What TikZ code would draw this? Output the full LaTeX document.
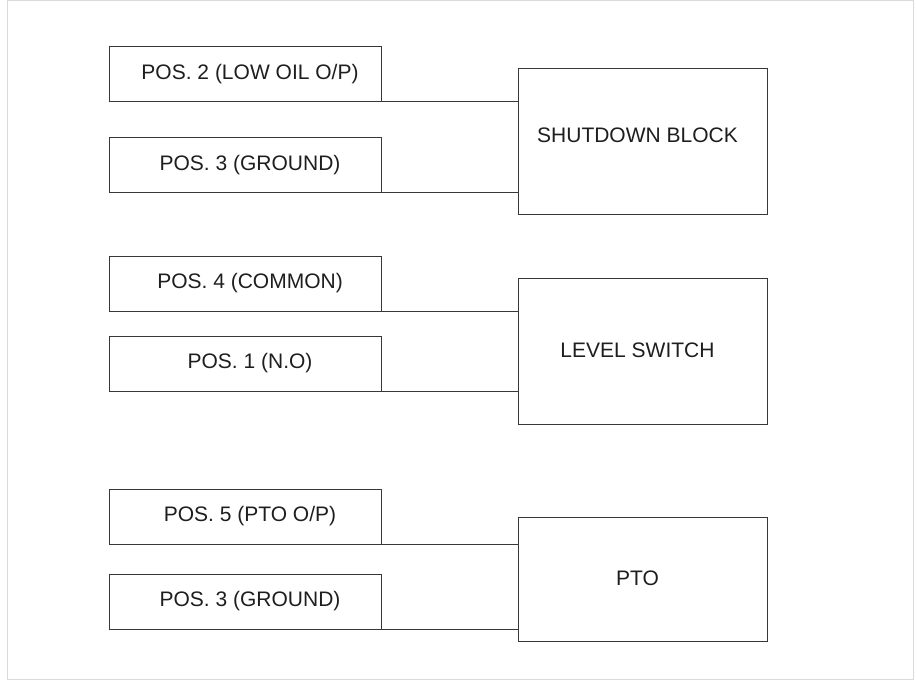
\documentclass[tikz,border=0pt]{standalone}
\usepackage{fontspec}
\setmainfont{Liberation Sans}
\definecolor{edge}{HTML}{383838}
\definecolor{ink}{HTML}{1E1E1E}
\definecolor{frame}{HTML}{DADADA}
\begin{document}
\begin{tikzpicture}[x=1pt,y=-1pt,
  lbox/.style={draw=edge,line width=1pt,minimum width=272pt,minimum height=55pt,inner sep=0pt},
  rbox/.style={draw=edge,line width=1pt,minimum width=249pt,inner sep=0pt},
  txt/.style={font=\fontsize{21}{25}\selectfont,text=ink},
  wire/.style={draw=edge,line width=1pt}]
\useasboundingbox (0,0) rectangle (917,681);
\draw[frame,line width=1pt] (7.5,0.5) rectangle (913.5,679);
% left boxes
\node[lbox,label={[txt,xshift=5pt,yshift=-1pt]center:POS. 2 (LOW OIL O/P)}] (p2) at (245,73.5) {};
\node[lbox,label={[txt,xshift=5pt,yshift=-1pt]center:POS. 3 (GROUND)}] (p3a) at (245,164.5) {};
\node[lbox,label={[txt,xshift=5pt]center:POS. 4 (COMMON)}] (p4) at (245,283.5) {};
\node[lbox,label={[txt,xshift=5pt]center:POS. 1 (N.O)}] (p1) at (245,363.5) {};
\node[lbox,label={[txt,xshift=5pt]center:POS. 5 (PTO O/P)}] (p5) at (245,516.5) {};
\node[lbox,label={[txt,xshift=5pt]center:POS. 3 (GROUND)}] (p3b) at (245,601.5) {};
% right boxes
\node[rbox,minimum height=146pt,label={[txt,xshift=-5pt,yshift=6pt]center:SHUTDOWN BLOCK}] (sd) at (642.5,141) {};
\node[rbox,minimum height=146pt,label={[txt,xshift=-5pt,yshift=1pt]center:LEVEL SWITCH}] (ls) at (642.5,351) {};
\node[rbox,minimum height=124pt,label={[txt,xshift=-5pt,yshift=1pt]center:PTO}] (pto) at (642.5,579) {};
% wires
\draw[wire] (p2.south east) -- (p2.south east -| sd.west);
\draw[wire] (p3a.south east) -- (p3a.south east -| sd.west);
\draw[wire] (p4.south east) -- (p4.south east -| ls.west);
\draw[wire] (p1.south east) -- (p1.south east -| ls.west);
\draw[wire] (p5.south east) -- (p5.south east -| pto.west);
\draw[wire] (p3b.south east) -- (p3b.south east -| pto.west);
\end{tikzpicture}
\end{document}
